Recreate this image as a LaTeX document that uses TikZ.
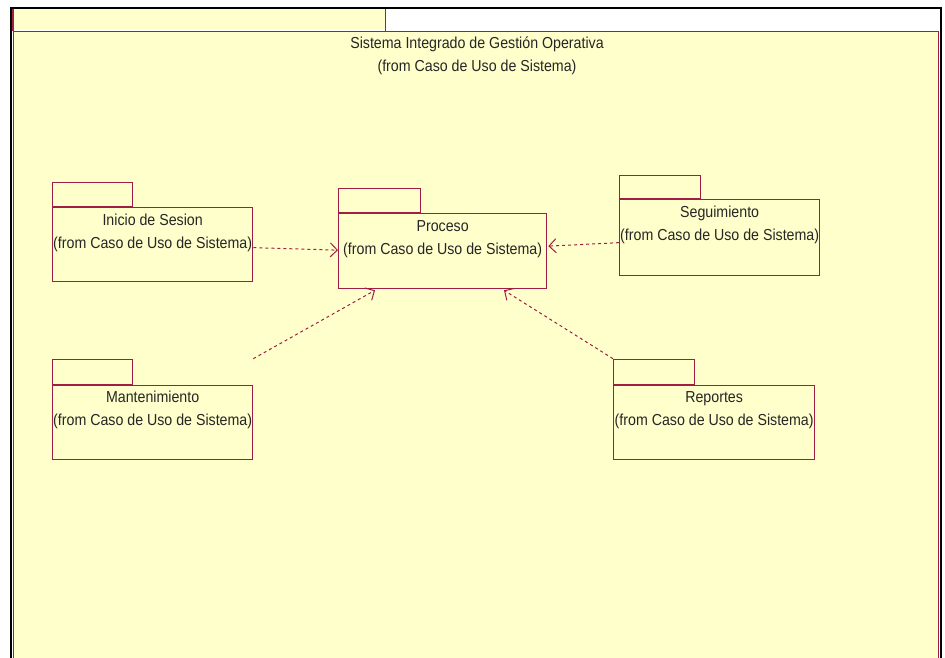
\documentclass[tikz,border=0pt]{standalone}
\usepackage{fontspec}
\setmainfont{Liberation Sans}
\usetikzlibrary{arrows.meta,calc}
\definecolor{pkgred}{RGB}{160,30,70}
\definecolor{pkgfill}{RGB}{255,255,204}
\newcommand{\tall}[1]{\scalebox{1}[1.12]{#1}}
\tikzset{
  pkgbody/.style={draw=pkgred, fill=pkgfill, line width=1.3pt, inner sep=0pt, anchor=north west},
  pkgtab/.style={draw=pkgred, fill=pkgfill, line width=1.3pt, inner sep=0pt, anchor=south west, minimum width=80pt, minimum height=24pt},
  pkgedge/.style={draw=pkgred, line width=1.3pt},
  lbl/.style={inner sep=0pt, anchor=base, text=black!85, font=\fontsize{14.2}{16}\selectfont},
  dep/.style={draw=pkgred, line width=1pt, dash pattern=on 3pt off 3pt, -{Straight Barb[length=7pt,width=14pt,line width=1pt]}}
}
\begin{document}
\begin{tikzpicture}[x=1pt,y=-1pt]
\useasboundingbox (0,0) rectangle (945,658);
\fill[white] (0,0) rectangle (945,658);
% big package
\node[pkgbody, anchor=north west, minimum width=925pt, minimum height=700pt] (sys) at (13,31) {};
\node[pkgtab, draw=none, anchor=south west, minimum width=371pt, minimum height=23pt] (systab) at (13,31) {};
\draw[pkgedge] (systab.north east) -- (systab.south east);
\draw[pkgedge] (systab.north west) -- (systab.south west);
% outer frame
\draw[black, line width=2.2pt] (11,700) -- (11,8) -- (941,8) -- (941,700);
\node[lbl] (systitle) at (477,49) {\tall{Sistema Integrado de Gestión Operativa}};
\node[lbl] (sysfrom) at (477,72) {\tall{(from Caso de Uso de Sistema)}};
% Inicio de Sesion
\node[pkgbody, minimum width=200pt, minimum height=74pt] (inicio) at (52,207) {};
\node[pkgtab] (iniciotab) at (inicio.north west) {};
\node[lbl] (inicio1) at ($(inicio.north)+(0,18)$) {\tall{Inicio de Sesion}};
\node[lbl] (inicio2) at ($(inicio.north)+(0,41)$) {\tall{(from Caso de Uso de Sistema)}};
% Proceso
\node[pkgbody, minimum width=208pt, minimum height=75pt] (proceso) at (338,213) {};
\node[pkgtab, minimum width=82pt] (procesotab) at (proceso.north west) {};
\node[lbl] (proceso1) at ($(proceso.north)+(0,18)$) {\tall{Proceso}};
\node[lbl] (proceso2) at ($(proceso.north)+(0,41)$) {\tall{(from Caso de Uso de Sistema)}};
% Seguimiento
\node[pkgbody, minimum width=200pt, minimum height=76pt] (seg) at (619,199) {};
\node[pkgtab, minimum width=81pt, minimum height=23pt] (segtab) at (seg.north west) {};
\node[lbl] (seg1) at ($(seg.north)+(0,18)$) {\tall{Seguimiento}};
\node[lbl] (seg2) at ($(seg.north)+(0,41)$) {\tall{(from Caso de Uso de Sistema)}};
% Mantenimiento
\node[pkgbody, minimum width=200pt, minimum height=74pt] (mant) at (52,385) {};
\node[pkgtab, minimum height=25pt] (manttab) at (mant.north west) {};
\node[lbl] (mant1) at ($(mant.north)+(0,17)$) {\tall{Mantenimiento}};
\node[lbl] (mant2) at ($(mant.north)+(0,40)$) {\tall{(from Caso de Uso de Sistema)}};
% Reportes
\node[pkgbody, minimum width=201pt, minimum height=74pt] (rep) at (613,385) {};
\node[pkgtab, minimum width=81pt, minimum height=25pt] (reptab) at (rep.north west) {};
\node[lbl] (rep1) at ($(rep.north)+(0,17)$) {\tall{Reportes}};
\node[lbl] (rep2) at ($(rep.north)+(0,40)$) {\tall{(from Caso de Uso de Sistema)}};
% dependency anchor points
\coordinate (mantc) at (mant.east |- manttab.north);
\coordinate (repc) at (reptab.north west);
% dependencies
\draw[dep] ($(inicio.east)+(0,3)$) -- ($(proceso.west)+(0,-1)$);
\draw[dep] ($(seg.west)+(0,5)$) -- ($(proceso.east)+(1,-5)$);
\draw[dep] (mantc) -- ($(proceso.south west)+(37,1)$);
\draw[dep] (repc) -- ($(proceso.south west)+(166,1)$);
\end{tikzpicture}
\end{document}
